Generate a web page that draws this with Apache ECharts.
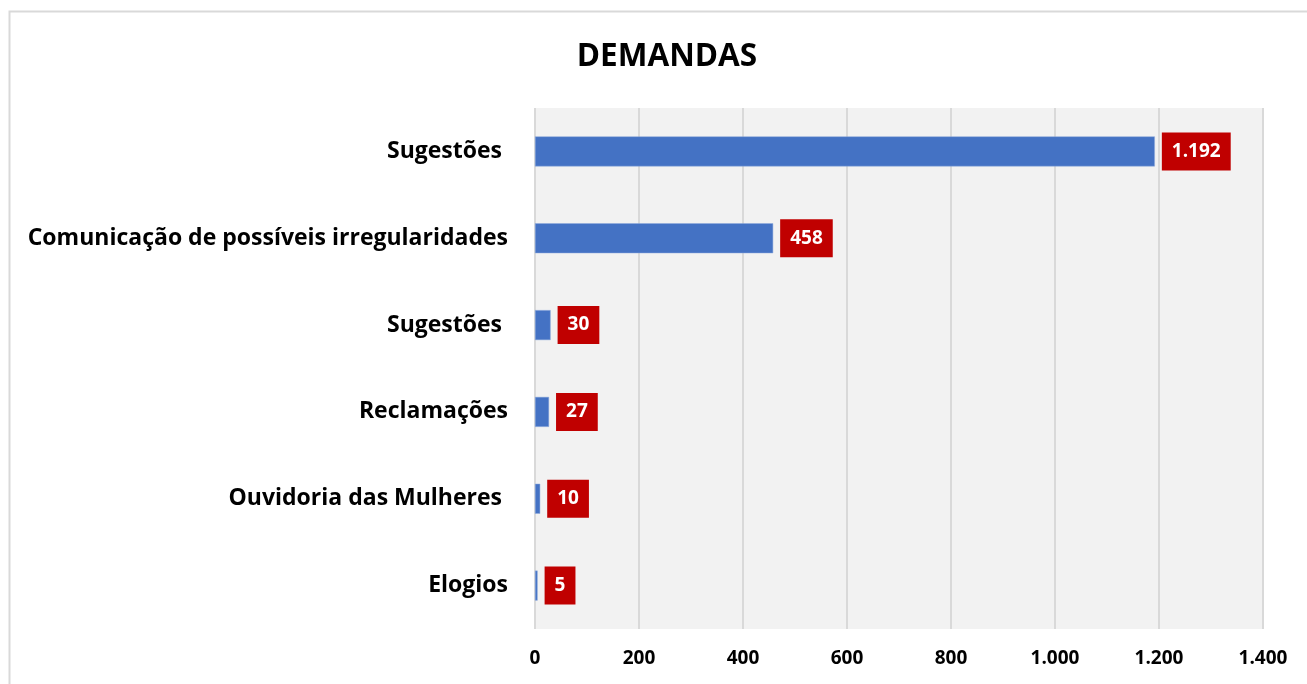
<!DOCTYPE html>
<html><head><meta charset="utf-8">
<script src="https://cdn.jsdelivr.net/npm/echarts@6/dist/echarts.min.js"></script>
<style>html,body{margin:0;padding:0;background:#fff}#c{width:1307px;height:684px}</style>
</head><body><div id="c"></div>
<script>
const categories = ['Sugestões ', 'Comunicação de possíveis irregularidades', 'Sugestões ', 'Reclamações', 'Ouvidoria das Mulheres ', 'Elogios'];
const values = [1192, 458, 30, 27, 10, 5];
const xTicks = [0, 200, 400, 600, 800, 1000, 1200, 1400];
const FONT = '"Open Sans", sans-serif';
const fmt = v => String(v).replace(/\B(?=(\d{3})+(?!\d))/g, '.');
const chart = echarts.init(document.getElementById('c'));
chart.setOption({
  animation: false,
  title: { text: 'DEMANDAS', left: 662, top: 36, textAlign: 'center',
    textStyle: { fontFamily: FONT, fontWeight: 'bold', fontSize: 31.5, color: '#000' } },
  graphic: [{ type: 'rect', left: 7, top: 9, shape: { x: 0, y: 0, width: 1320, height: 700 },
    style: { fill: 'none', stroke: '#d9d9d9', lineWidth: 2 }, z: -10 }],
  grid: { left: 535, right: 44, top: 108, bottom: 55, show: true, backgroundColor: '#f2f2f2', borderWidth: 0 },
  xAxis: { type: 'value', min: 0, max: 1400, interval: 200,
    axisLine: { show: false }, axisTick: { show: false },
    splitLine: { show: true, lineStyle: { color: '#d9d9d9', width: 2 } },
    axisLabel: { margin: 20, color: '#000', fontFamily: FONT, fontWeight: 'bold', fontSize: 19,
      formatter: v => xTicks.includes(v) ? fmt(v) : '' } },
  yAxis: { type: 'category', inverse: true, data: categories,
    axisLine: { show: false }, axisTick: { show: false },
    axisLabel: { margin: 27, color: '#000', fontFamily: FONT, fontWeight: 'bold', fontSize: 23,
      padding: [3, 0, 0, 0] } },
  series: [{ type: 'bar', data: values, barWidth: 30,
    itemStyle: { color: '#4472c4', borderColor: '#8faadc', borderWidth: 0.5 },
    label: { show: true, position: 'right', distance: 7, formatter: p => fmt(p.value),
      backgroundColor: '#c00000', color: '#fff', padding: [10, 10, 9, 10],
      fontFamily: FONT, fontWeight: 'bold', fontSize: 19 } }]
});
</script></body></html>
